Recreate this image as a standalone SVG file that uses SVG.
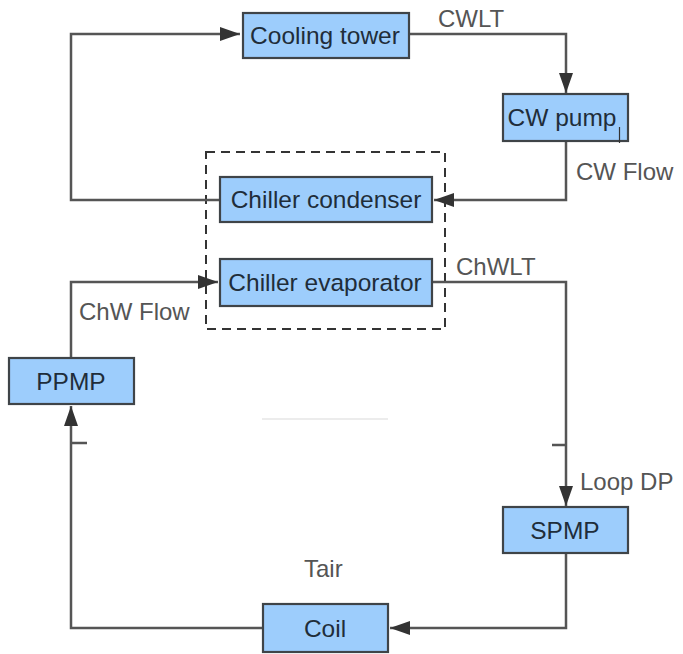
<svg xmlns="http://www.w3.org/2000/svg" width="683" height="654" viewBox="0 0 683 654">
  <defs>
    <marker id="arrow" viewBox="0 0 20 14" refX="20" refY="7" markerWidth="20" markerHeight="14" markerUnits="userSpaceOnUse" orient="auto">
      <path d="M0,0 L20,7 L0,14 z" fill="#333"/>
    </marker>
    <style>
      .node rect { fill: #9dcdfc; stroke: #3f4448; stroke-width: 2.2; }
      .node text { font-family: "Liberation Sans", Arial, sans-serif; font-size: 24.5px; fill: #1f2d3a; text-anchor: middle; }
      .pipe { fill: none; stroke: #555; stroke-width: 2.5; }
      .label { font-family: "Liberation Sans", Arial, sans-serif; font-size: 24px; fill: #555; }
    </style>
  </defs>
  <rect width="683" height="654" fill="#fff"/>

  <!-- chiller enclosure -->
  <rect x="206" y="152" width="239" height="177" fill="none" stroke="#333" stroke-width="2" stroke-dasharray="9,6"/>

  <!-- piping -->
  <g id="connectors">
    <path class="pipe" d="M219,200 H71 V34 H240" marker-end="url(#arrow)"/>
    <path class="pipe" d="M409,34 H566 V93" marker-end="url(#arrow)"/>
    <path class="pipe" d="M566,141 V200 H434" marker-end="url(#arrow)"/>
    <path class="pipe" d="M71,357 V282 H218" marker-end="url(#arrow)"/>
    <path class="pipe" d="M432,282 H566 V506" marker-end="url(#arrow)"/>
    <path class="pipe" d="M566,553 V628 H390" marker-end="url(#arrow)"/>
    <path class="pipe" d="M262,628 H71 V406" marker-end="url(#arrow)"/>
    <path class="pipe" d="M71,443 H87 M552,445 H566"/>
  </g>

  <!-- equipment -->
  <g id="cooling-tower" class="node">
    <rect x="243" y="13" width="166" height="45"/>
    <text x="325" y="44">Cooling tower</text>
  </g>
  <g id="cw-pump" class="node">
    <rect x="503" y="94" width="125" height="47"/>
    <text x="562" y="126">CW pump</text>
    <line x1="619.5" y1="127" x2="619.5" y2="143" stroke="#333" stroke-width="1.2"/>
  </g>
  <g id="chiller-condenser" class="node">
    <rect x="220" y="177" width="212" height="45"/>
    <text x="326" y="208">Chiller condenser</text>
  </g>
  <g id="chiller-evaporator" class="node">
    <rect x="220" y="259" width="212" height="47"/>
    <text x="325" y="291">Chiller evaporator</text>
  </g>
  <g id="ppmp" class="node">
    <rect x="9" y="358" width="125" height="46"/>
    <text x="71" y="390">PPMP</text>
  </g>
  <g id="spmp" class="node">
    <rect x="503" y="507" width="125" height="46"/>
    <text x="565" y="539">SPMP</text>
  </g>
  <g id="coil" class="node">
    <rect x="263" y="604" width="125" height="48"/>
    <text x="325" y="637">Coil</text>
  </g>

  <!-- faint rule -->
  <line x1="262" y1="419" x2="388" y2="419" stroke="#e6e6e6" stroke-width="1.5"/>

  <!-- signal labels -->
  <text class="label" x="438" y="27">CWLT</text>
  <text class="label" x="576" y="180">CW Flow</text>
  <text class="label" x="456" y="275">ChWLT</text>
  <text class="label" x="79" y="320">ChW Flow</text>
  <text class="label" x="580" y="490">Loop DP</text>
  <text class="label" x="304" y="577">Tair</text>
</svg>
